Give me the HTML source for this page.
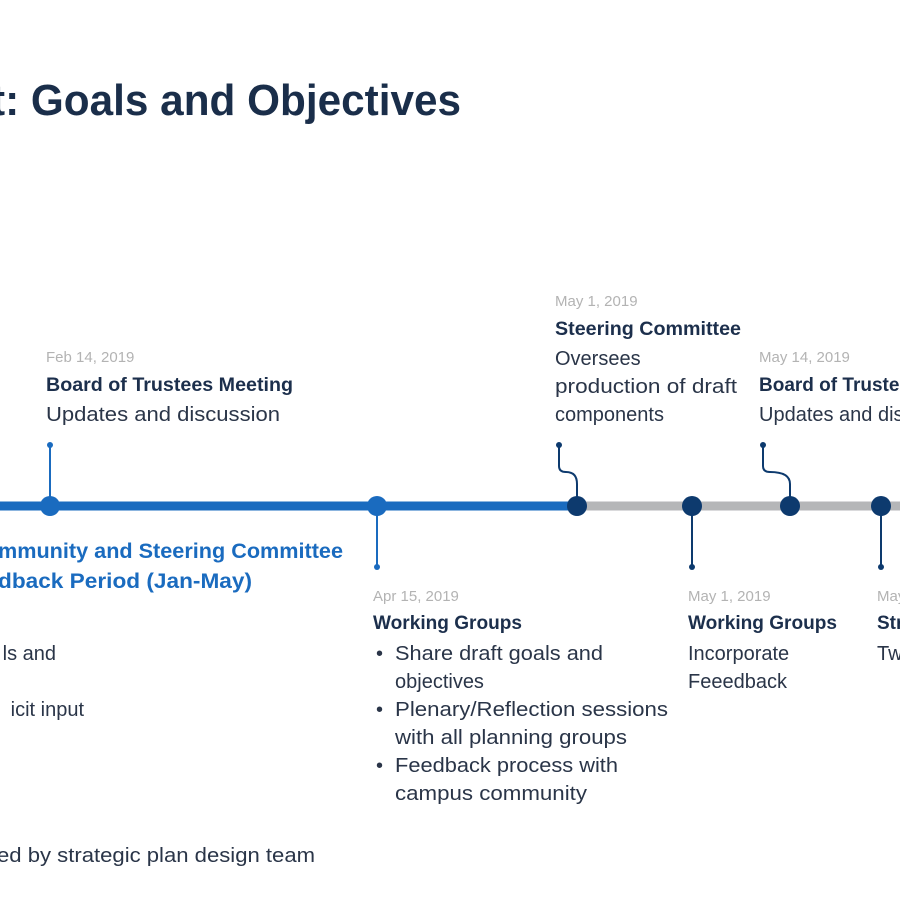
<!DOCTYPE html>
<html><head><meta charset="utf-8"><style>
html,body{margin:0;padding:0;background:#fff;width:900px;height:900px;overflow:hidden}
svg{display:block}
text{font-family:"Liberation Sans",Arial,sans-serif}
.d{fill:#b3b3b3;font-size:15px}
.h{fill:#1c2f4c;font-size:19px;font-weight:bold}
.b{fill:#2a3548;font-size:20px}
.bl{fill:#1a6bbf;font-size:21px;font-weight:bold}
</style></head><body>
<svg width="900" height="900" viewBox="0 0 900 900">
<text x="-9" y="115" style="font-size:44px;font-weight:bold;fill:#1a2e4a" textLength="470" lengthAdjust="spacingAndGlyphs">t: Goals and Objectives</text>

<line x1="0" y1="506" x2="577" y2="506" stroke="#1a6bbf" stroke-width="9"/>
<line x1="577" y1="506" x2="900" y2="506" stroke="#b5b6b8" stroke-width="9"/>

<g stroke="#1a6bbf" stroke-width="2" fill="none">
<line x1="50" y1="445" x2="50" y2="506"/>
<line x1="377" y1="506" x2="377" y2="567"/>
</g>
<g fill="#1a6bbf"><circle cx="50" cy="445" r="3"/><circle cx="377" cy="567" r="3"/></g>
<g stroke="#0d3a6e" stroke-width="2" fill="none">
<path d="M559 445 V466 Q559 472 566 472 Q577 472 577 484 V506"/>
<path d="M763 445 V466 Q763 472 770 472 Q790 472 790 484 V506"/>
<line x1="692" y1="506" x2="692" y2="567"/>
<line x1="881" y1="506" x2="881" y2="567"/>
</g>
<g fill="#0d3a6e"><circle cx="559" cy="445" r="3"/><circle cx="763" cy="445" r="3"/><circle cx="692" cy="567" r="3"/><circle cx="881" cy="567" r="3"/></g>

<circle cx="50" cy="506" r="10" fill="#1a6bbf"/>
<circle cx="377" cy="506" r="10" fill="#1a6bbf"/>
<circle cx="577" cy="506" r="10" fill="#0d3a6e"/>
<circle cx="692" cy="506" r="10" fill="#0d3a6e"/>
<circle cx="790" cy="506" r="10" fill="#0d3a6e"/>
<circle cx="881" cy="506" r="10" fill="#0d3a6e"/>

<text class="d" x="46" y="362">Feb 14, 2019</text>
<text class="h" x="46" y="391" textLength="247" lengthAdjust="spacingAndGlyphs">Board of Trustees Meeting</text>
<text class="b" x="46" y="421" textLength="234" lengthAdjust="spacingAndGlyphs">Updates and discussion</text>

<text class="d" x="555" y="306">May 1, 2019</text>
<text class="h" x="555" y="335" textLength="186" lengthAdjust="spacingAndGlyphs">Steering Committee</text>
<text class="b" x="555" y="365">Oversees</text>
<text class="b" x="555" y="393" textLength="182" lengthAdjust="spacingAndGlyphs">production of draft</text>
<text class="b" x="555" y="421">components</text>

<text class="d" x="759" y="362">May 14, 2019</text>
<text class="h" x="759" y="391">Board of Trustees Meeting</text>
<text class="b" x="759" y="421">Updates and discussion</text>

<text class="bl" x="343" y="558" text-anchor="end" textLength="345" lengthAdjust="spacingAndGlyphs">mmunity and Steering Committee</text>
<text class="bl" x="252" y="588" text-anchor="end" textLength="254" lengthAdjust="spacingAndGlyphs">dback Period (Jan-May)</text>
<text class="b" x="56" y="660" text-anchor="end">ls and</text>
<text class="b" x="84" y="716" text-anchor="end">icit input</text>
<text class="b" x="315" y="862" text-anchor="end" textLength="318" lengthAdjust="spacingAndGlyphs">ed by strategic plan design team</text>

<text class="d" x="373" y="601">Apr 15, 2019</text>
<text class="h" x="373" y="629" textLength="149" lengthAdjust="spacingAndGlyphs">Working Groups</text>
<text class="b" x="376" y="660">•</text><text class="b" x="395" y="660" textLength="208" lengthAdjust="spacingAndGlyphs">Share draft goals and</text>
<text class="b" x="395" y="688">objectives</text>
<text class="b" x="376" y="716">•</text><text class="b" x="395" y="716" textLength="273" lengthAdjust="spacingAndGlyphs">Plenary/Reflection sessions</text>
<text class="b" x="395" y="744" textLength="232" lengthAdjust="spacingAndGlyphs">with all planning groups</text>
<text class="b" x="376" y="772">•</text><text class="b" x="395" y="772" textLength="223" lengthAdjust="spacingAndGlyphs">Feedback process with</text>
<text class="b" x="395" y="800" textLength="192" lengthAdjust="spacingAndGlyphs">campus community</text>

<text class="d" x="688" y="601">May 1, 2019</text>
<text class="h" x="688" y="629" textLength="149" lengthAdjust="spacingAndGlyphs">Working Groups</text>
<text class="b" x="688" y="660">Incorporate</text>
<text class="b" x="688" y="688">Feeedback</text>

<text class="d" x="877" y="601">May 30, 2019</text>
<text class="h" x="877" y="629">Strategic Plan</text>
<text class="b" x="877" y="660">Two</text>
</svg>
</body></html>
